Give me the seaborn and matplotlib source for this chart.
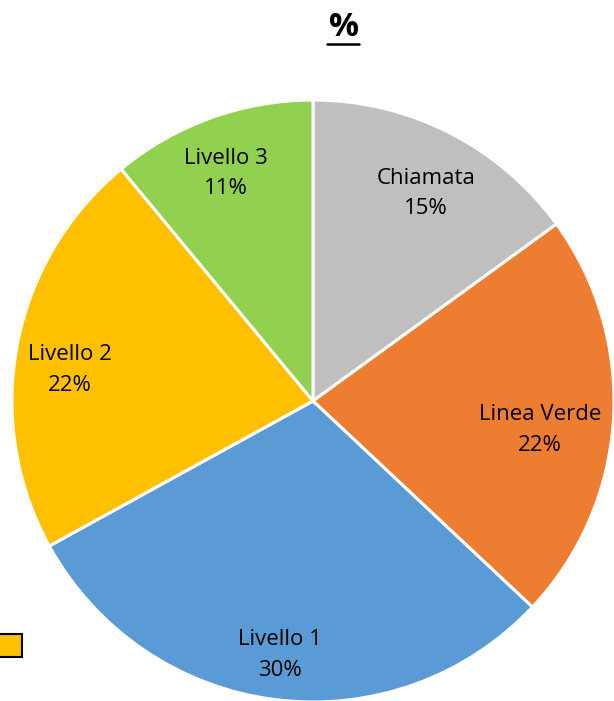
import matplotlib
matplotlib.use("Agg")
import matplotlib.pyplot as plt
import seaborn as sns
import numpy as np
from matplotlib.lines import Line2D
from matplotlib.patches import Rectangle

sns.set_style("white")
plt.rcParams['font.family'] = ['Open Sans', 'DejaVu Sans']

# data (clockwise from 12 o'clock)
categories = ['Chiamata', 'Linea Verde', 'Livello 1', 'Livello 2', 'Livello 3']
shares = [15, 22, 30, 22, 11]
colors = ['#BFBFBF', '#ED7D31', '#5B9BD5', '#FFC000', '#92D050']
# label placement (Excel "best fit" nudges them): radius fraction, angle nudge in degrees
label_radius = [0.785, 0.76, 0.85, 0.815, 0.81]
label_nudge = [-1.5, -3.7, -0.2, 3.5, 1.2]

fig = plt.figure(figsize=(6.14, 7.01), dpi=100)
W, H = 614, 701
cx, cy, r = 313, 401, 301
ax = fig.add_axes([(cx - r) / W, (H - cy - r) / H, 2 * r / W, 2 * r / H])

wedges, _ = ax.pie(shares, colors=colors, startangle=90, counterclock=False,
                   radius=1, wedgeprops=dict(edgecolor='white', linewidth=2.2))

# labels: name + percent, placed around each slice's middle angle
total = sum(shares)
start = 90.0
for name, val, rad, nudge in zip(categories, shares, label_radius, label_nudge):
    span = 360.0 * val / total
    mid = np.deg2rad(start - span / 2 + nudge)
    start -= span
    ax.text(rad * np.cos(mid), rad * np.sin(mid), f"{name}\n{val/total:.0%}",
            ha='center', va='center', fontsize=16, color='black',
            linespacing=1.6)

ax.set_xlim(-1, 1)
ax.set_ylim(-1, 1)
ax.set_aspect('equal')
ax.axis('off')

# title "%" bold, underlined
fig.text(344 / W, 1 - 27 / H, '%', ha='center', va='center',
         fontsize=24, fontweight='bold', color='black')
fig.add_artist(Line2D([327 / W, 359 / W], [1 - 44 / H, 1 - 44 / H],
                      transform=fig.transFigure, color='black', lw=1.8))

# clipped legend marker seen at the lower-left edge
fig.add_artist(Rectangle((-8 / W, 1 - 657 / H), 30 / W, 23 / H,
                         transform=fig.transFigure, facecolor='#FFC000',
                         edgecolor='black', lw=1.5))

fig.savefig('out.png', dpi=100)
